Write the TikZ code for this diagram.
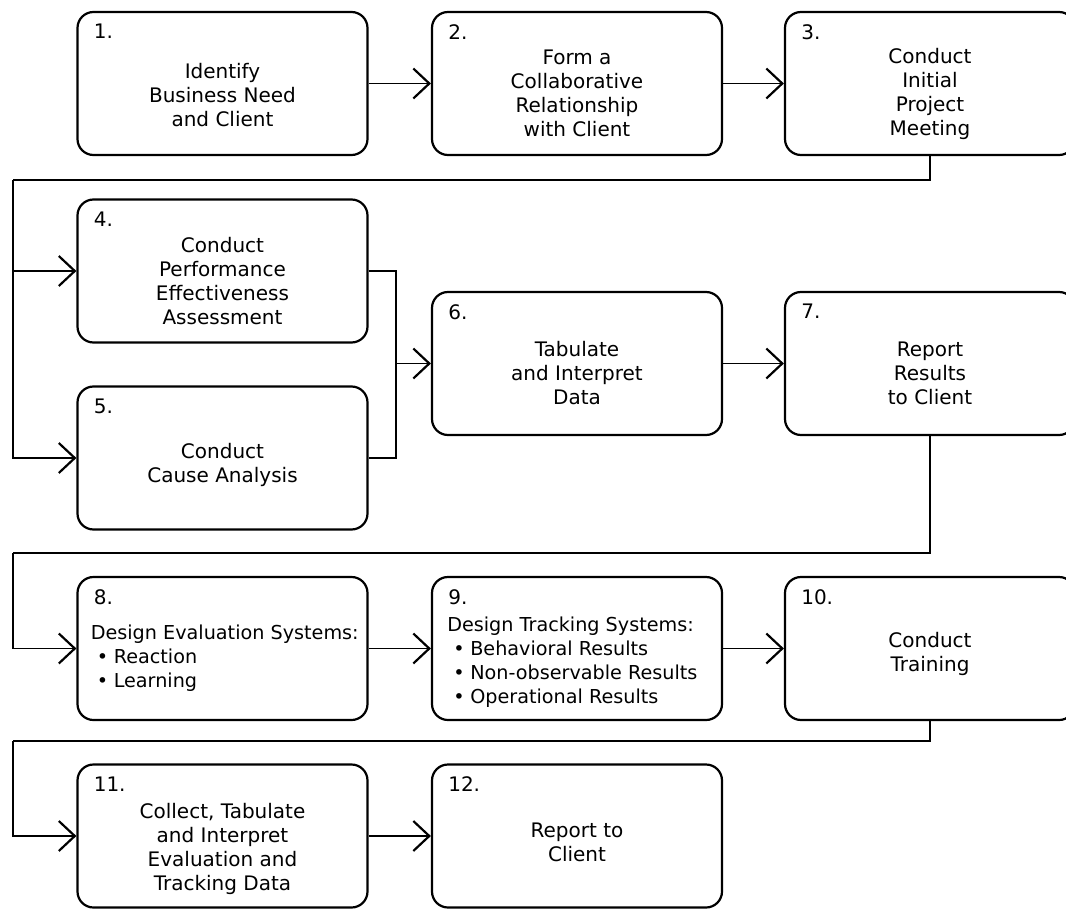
\documentclass[tikz,border=0pt]{standalone}
\usepackage{fontspec}
\setmainfont{DejaVu Sans}
\usepackage{tikz}
\usetikzlibrary{
  arrows.meta,
  positioning,
  calc,
}
\tikzset{
  stepbox/.style={
    rectangle, rounded corners=8pt, draw=black, line width=1.1pt,
    minimum width=145pt, minimum height=71.5pt, inner sep=0pt,
  },
  steptext/.style={
    align=center, inner sep=0pt, font=\fontsize{10}{12}\selectfont,
  },
  steplist/.style={
    align=left, anchor=west, inner sep=0pt, font=\fontsize{9.6}{12}\selectfont,
  },
  stepnum/.style={
    anchor=north west, inner sep=0pt, font=\fontsize{10}{12}\selectfont,
  },
  flowline/.style={line width=0.9pt, draw=black},
  flowarrow/.style={
    flowline, -{Straight Barb[length=8pt,width=15pt,line width=1.1pt]},
  },
}
\newcommand{\bulletitem}{\hspace*{3pt}\makebox[8.5pt][l]{\textbullet}}

\begin{document}
\begin{tikzpicture}[x=0.5pt, y=-0.5pt]
\clip (0,0) rectangle (1066,910);

% boxes
\node[stepbox] (b1) at (222.5,83.5) {};
\node[stepbox] (b2) at (577,83.5) {};
\node[stepbox] (b3) at (930,83.5) {};
\node[stepbox] (b4) at (222.5,271) {};
\node[stepbox] (b5) at (222.5,458) {};
\node[stepbox] (b6) at (577,363.5) {};
\node[stepbox] (b7) at (930,363.5) {};
\node[stepbox] (b8) at (222.5,648.5) {};
\node[stepbox] (b9) at (577,648.5) {};
\node[stepbox] (b10) at (930,648.5) {};
\node[stepbox] (b11) at (222.5,836) {};
\node[stepbox] (b12) at (577,836) {};

\foreach \i in {1,...,12}
  \node[stepnum] (n\i) at ([xshift=8.5pt,yshift=-6.5pt]b\i.north west) {\i.};

% texts
\node[steptext] (t1) at ([yshift=-6pt]b1.center) {Identify\\Business Need\\and Client};
\node[steptext] (t2) at ([yshift=-5pt]b2.center) {Form a\\Collaborative\\Relationship\\with Client};
\node[steptext] (t3) at ([yshift=-5pt]b3.center) {Conduct\\Initial\\Project\\Meeting};
\node[steptext] (t4) at ([yshift=-5pt]b4.center) {Conduct\\Performance\\Effectiveness\\Assessment};
\node[steptext] (t5) at ([yshift=-3.5pt]b5.center) {Conduct\\Cause Analysis};
\node[steptext] (t6) at ([yshift=-5pt]b6.center) {Tabulate\\and Interpret\\Data};
\node[steptext] (t7) at ([yshift=-5pt]b7.center) {Report\\Results\\to Client};
\node[steplist] (t8) at ([xshift=7pt,yshift=-5pt]b8.west) {Design Evaluation Systems:\\
  \bulletitem Reaction\\\bulletitem Learning};
\node[steplist] (t9) at ([xshift=8pt,yshift=-7pt]b9.west) {Design Tracking Systems:\\
  \bulletitem Behavioral Results\\\bulletitem Non-observable Results\\\bulletitem Operational Results};
\node[steptext] (t10) at ([yshift=-2.5pt]b10.center) {Conduct\\Training};
\node[steptext] (t11) at ([yshift=-6.5pt]b11.center) {Collect, Tabulate\\and Interpret\\Evaluation and\\Tracking Data};
\node[steptext] (t12) at ([yshift=-3pt]b12.center) {Report to\\Client};

% connectors
\coordinate (bendA) at (13,180);
\coordinate (bendB) at (13,553);
\coordinate (bendC) at (13,741);
\coordinate (merge) at ([xshift=-17.5pt]b6.west);

\draw[flowarrow] (b1.east) -- (b2.west);
\draw[flowarrow] (b2.east) -- (b3.west);
\draw[flowline] (b3.south) |- (bendA);
\draw[flowarrow] (bendA) |- (b4.west);
\draw[flowarrow] (bendA) |- (b5.west);
\draw[flowline] (b4.east) -| (merge) |- (b5.east);
\draw[flowarrow] (merge) -- (b6.west);
\draw[flowarrow] (b6.east) -- (b7.west);
\draw[flowline] (b7.south) |- (bendB);
\draw[flowarrow] (bendB) |- (b8.west);
\draw[flowarrow] (b8.east) -- (b9.west);
\draw[flowarrow] (b9.east) -- (b10.west);
\draw[flowline] (b10.south) |- (bendC);
\draw[flowarrow] (bendC) |- (b11.west);
\draw[flowarrow] (b11.east) -- (b12.west);
\end{tikzpicture}
\end{document}
